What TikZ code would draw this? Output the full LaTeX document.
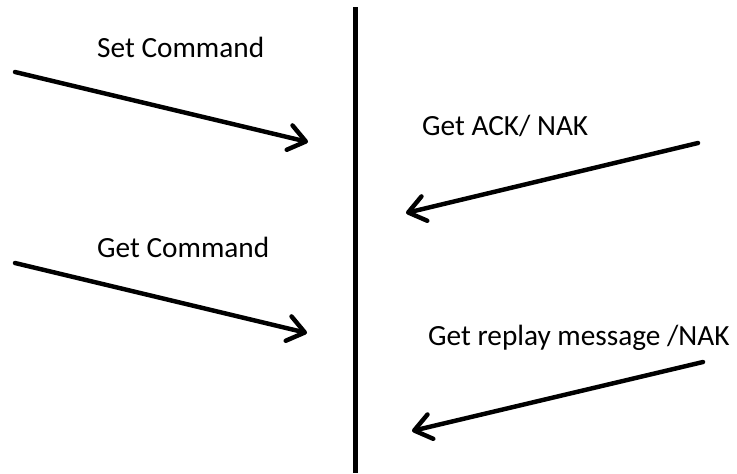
\documentclass[tikz,border=0pt]{standalone}
\usepackage{fontspec}
\setmainfont{Carlito}
\usetikzlibrary{arrows.meta,positioning}

\begin{document}
\begin{tikzpicture}[x=0.03cm,y=-0.03cm,
    msg/.style={line width=3.8pt,line cap=round,-{Straight Barb[length=0.5cm,width=0.75cm,line cap=round,line join=round]}},
    lbl/.style={anchor=base west,inner sep=0pt,font=\fontsize{25}{30}\selectfont}]
\useasboundingbox (0,0) rectangle (737,473);
% the divider
\coordinate (top) at (355.5,7);
\coordinate (bot) at (355.5,473);
\draw[line width=4.5pt] (top) -- (bot);

% end points of the messages
\coordinate (set-s) at (15,72);   \coordinate (set-e) at (308,142);
\coordinate (ack-s) at (698,143); \coordinate (ack-e) at (406,213);
\coordinate (get-s) at (15,263);  \coordinate (get-e) at (307,333);
\coordinate (rep-s) at (703,362); \coordinate (rep-e) at (412,431);

\node[lbl] (setlbl) at (97,57) {Set Command};
\node[lbl] (acklbl) at (422,135) {Get ACK/ NAK};
\node[lbl] (getlbl) at (97,257) {Get Command};
\node[lbl] (replbl) at (428,345) {Get replay message /NAK};

\draw[msg] (set-s) -- (set-e);
\draw[msg] (ack-s) -- (ack-e);
\draw[msg] (get-s) -- (get-e);
\draw[msg] (rep-s) -- (rep-e);
\end{tikzpicture}
\end{document}
